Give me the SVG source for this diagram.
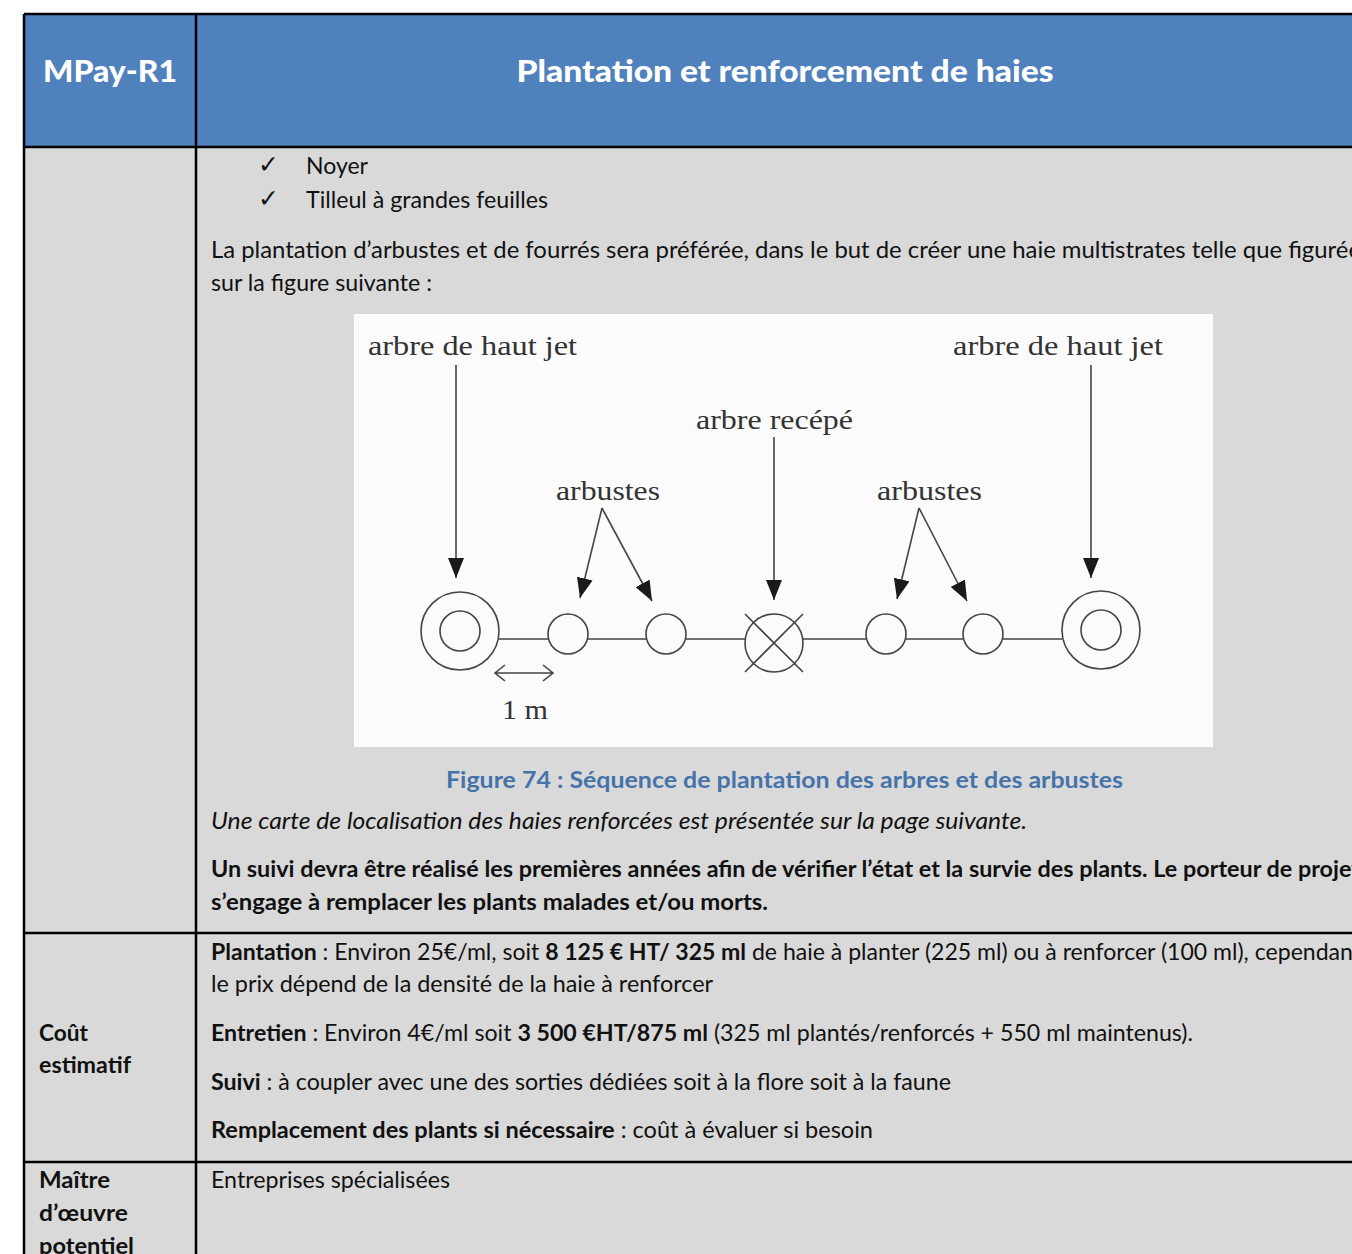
<svg xmlns="http://www.w3.org/2000/svg" width="1352" height="1254" viewBox="0 0 1352 1254">
<style>
.hd{font-family:Lato,"Liberation Sans",sans-serif;font-weight:900;fill:#fff}
.t{font-family:Lato,"Liberation Sans",sans-serif;font-size:23px;fill:#111}
.b{font-weight:bold}
.i{font-style:italic}
.cap{font-family:Lato,"Liberation Sans",sans-serif;font-size:23px;font-weight:bold;fill:#4573A9}
.ck{font-family:"DejaVu Sans",sans-serif;font-size:25px;fill:#111}
.ft{font-family:"Liberation Serif",serif;font-size:28px;fill:#333}
.ln{stroke:#444;stroke-width:1.6;fill:none}
.grid{stroke:#000;stroke-width:2.5;fill:none}
</style>
<defs>
<marker id="ah2" viewBox="0 0 20 16" refX="20" refY="8" markerWidth="20" markerHeight="16" markerUnits="userSpaceOnUse" orient="auto">
<path d="M0,0 L20,8 L0,16 Z" fill="#1a1a1a"/>
</marker>
</defs>
<rect width="1352" height="1254" fill="#fff"/>
<g id="table">
<rect x="24" y="14" width="1340" height="133" fill="#4F81BD"/>
<rect x="24" y="147" width="1340" height="1120" fill="#D9D9D9"/>
<path class="grid" d="M24,14 H1360 M24,14 V1260 M196,14 V1260 M24,147 H1360 M24,933 H1360 M24,1162 H1360"/>
</g>
<g id="header">
<text class="hd" x="110" y="82" font-size="30" text-anchor="middle" textLength="134" lengthAdjust="spacingAndGlyphs">MPay-R1</text>
<text class="hd" x="785" y="82" font-size="31" text-anchor="middle" textLength="537" lengthAdjust="spacingAndGlyphs">Plantation et renforcement de haies</text>
</g>
<g id="body-text">
<text class="ck" x="258" y="173">✓</text>
<text class="t" x="306" y="174" textLength="62" lengthAdjust="spacingAndGlyphs">Noyer</text>
<text class="ck" x="258" y="207">✓</text>
<text class="t" x="306" y="208" textLength="242" lengthAdjust="spacingAndGlyphs">Tilleul à grandes feuilles</text>
<text class="t" x="211" y="258" textLength="1150" lengthAdjust="spacingAndGlyphs">La plantation d’arbustes et de fourrés sera préférée, dans le but de créer une haie multistrates telle que figurée</text>
<text class="t" x="211" y="291" textLength="221" lengthAdjust="spacingAndGlyphs">sur la figure suivante :</text>
<text class="cap" x="446" y="788" textLength="677" lengthAdjust="spacingAndGlyphs">Figure 74 : Séquence de plantation des arbres et des arbustes</text>
<text class="t i" x="211" y="829" textLength="816" lengthAdjust="spacingAndGlyphs">Une carte de localisation des haies renforcées est présentée sur la page suivante.</text>
<text class="t b" x="211" y="877" textLength="1149" lengthAdjust="spacingAndGlyphs">Un suivi devra être réalisé les premières années afin de vérifier l’état et la survie des plants. Le porteur de projet</text>
<text class="t b" x="211" y="910" textLength="557" lengthAdjust="spacingAndGlyphs">s’engage à remplacer les plants malades et/ou morts.</text>
</g>
<g id="cout">
<text class="t b" x="39" y="1041" textLength="49" lengthAdjust="spacingAndGlyphs">Coût</text>
<text class="t b" x="39" y="1073" textLength="92" lengthAdjust="spacingAndGlyphs">estimatif</text>
<text class="t" x="211" y="960" textLength="1150" lengthAdjust="spacingAndGlyphs"><tspan class="b">Plantation</tspan> : Environ 25€/ml, soit <tspan class="b">8 125 € HT/ 325 ml</tspan> de haie à planter (225 ml) ou à renforcer (100 ml), cependant</text>
<text class="t" x="211" y="992" textLength="502" lengthAdjust="spacingAndGlyphs">le prix dépend de la densité de la haie à renforcer</text>
<text class="t" x="211" y="1041" textLength="982" lengthAdjust="spacingAndGlyphs"><tspan class="b">Entretien</tspan> : Environ 4€/ml soit <tspan class="b">3 500 €HT/875 ml</tspan> (325 ml plantés/renforcés + 550 ml maintenus).</text>
<text class="t" x="211" y="1090" textLength="740" lengthAdjust="spacingAndGlyphs"><tspan class="b">Suivi</tspan> : à coupler avec une des sorties dédiées soit à la flore soit à la faune</text>
<text class="t" x="211" y="1138" textLength="662" lengthAdjust="spacingAndGlyphs"><tspan class="b">Remplacement des plants si nécessaire</tspan> : coût à évaluer si besoin</text>
</g>
<g id="maitre">
<text class="t b" x="39" y="1188" textLength="71" lengthAdjust="spacingAndGlyphs">Maître</text>
<text class="t b" x="39" y="1221" textLength="89" lengthAdjust="spacingAndGlyphs">d’œuvre</text>
<text class="t b" x="39" y="1254" textLength="95" lengthAdjust="spacingAndGlyphs">potentiel</text>
<text class="t" x="211" y="1188" textLength="239" lengthAdjust="spacingAndGlyphs">Entreprises spécialisées</text>
</g>
<g id="figure">
<rect x="354" y="314" width="859" height="433" fill="#FBFBFB"/>
<g id="labels">
<text class="ft" x="368" y="355" textLength="209" lengthAdjust="spacingAndGlyphs">arbre de haut jet</text>
<text class="ft" x="953" y="355" textLength="210" lengthAdjust="spacingAndGlyphs">arbre de haut jet</text>
<text class="ft" x="696" y="429" textLength="157" lengthAdjust="spacingAndGlyphs">arbre recépé</text>
<text class="ft" x="556" y="500" textLength="104" lengthAdjust="spacingAndGlyphs">arbustes</text>
<text class="ft" x="877" y="500" textLength="105" lengthAdjust="spacingAndGlyphs">arbustes</text>
<text class="ft" x="502" y="719" textLength="46" lengthAdjust="spacingAndGlyphs">1 m</text>
</g>
<g id="connectors">
<path class="ln" d="M499,639 H549 M588,639 H647 M686,639 H745 M802,639 H866 M906,639 H963 M1002,639 H1062"/>
<line class="ln" x1="456" y1="365" x2="456" y2="578" marker-end="url(#ah2)"/>
<line class="ln" x1="1091" y1="365" x2="1091" y2="578" marker-end="url(#ah2)"/>
<line class="ln" x1="774" y1="437" x2="774" y2="600" marker-end="url(#ah2)"/>
<line class="ln" x1="602" y1="508" x2="580" y2="598" marker-end="url(#ah2)"/>
<line class="ln" x1="602" y1="508" x2="652" y2="601" marker-end="url(#ah2)"/>
<line class="ln" x1="919" y1="508" x2="897" y2="599" marker-end="url(#ah2)"/>
<line class="ln" x1="919" y1="508" x2="967" y2="601" marker-end="url(#ah2)"/>
<path class="ln" d="M496,673 H553 M505,665 L495,673 L505,681 M543,665 L553,673 L543,681"/>
</g>
<g id="trees">
<circle class="ln" cx="460" cy="631" r="39"/>
<circle class="ln" cx="460" cy="631" r="20"/>
<circle class="ln" cx="568" cy="634" r="20"/>
<circle class="ln" cx="666" cy="634" r="20"/>
<circle class="ln" cx="774" cy="643" r="29"/>
<path class="ln" d="M745,614 L803,672 M803,614 L745,672"/>
<circle class="ln" cx="886" cy="634" r="20"/>
<circle class="ln" cx="983" cy="634" r="20"/>
<circle class="ln" cx="1101" cy="630" r="39"/>
<circle class="ln" cx="1101" cy="630" r="20"/>
</g>
</g>
</svg>
